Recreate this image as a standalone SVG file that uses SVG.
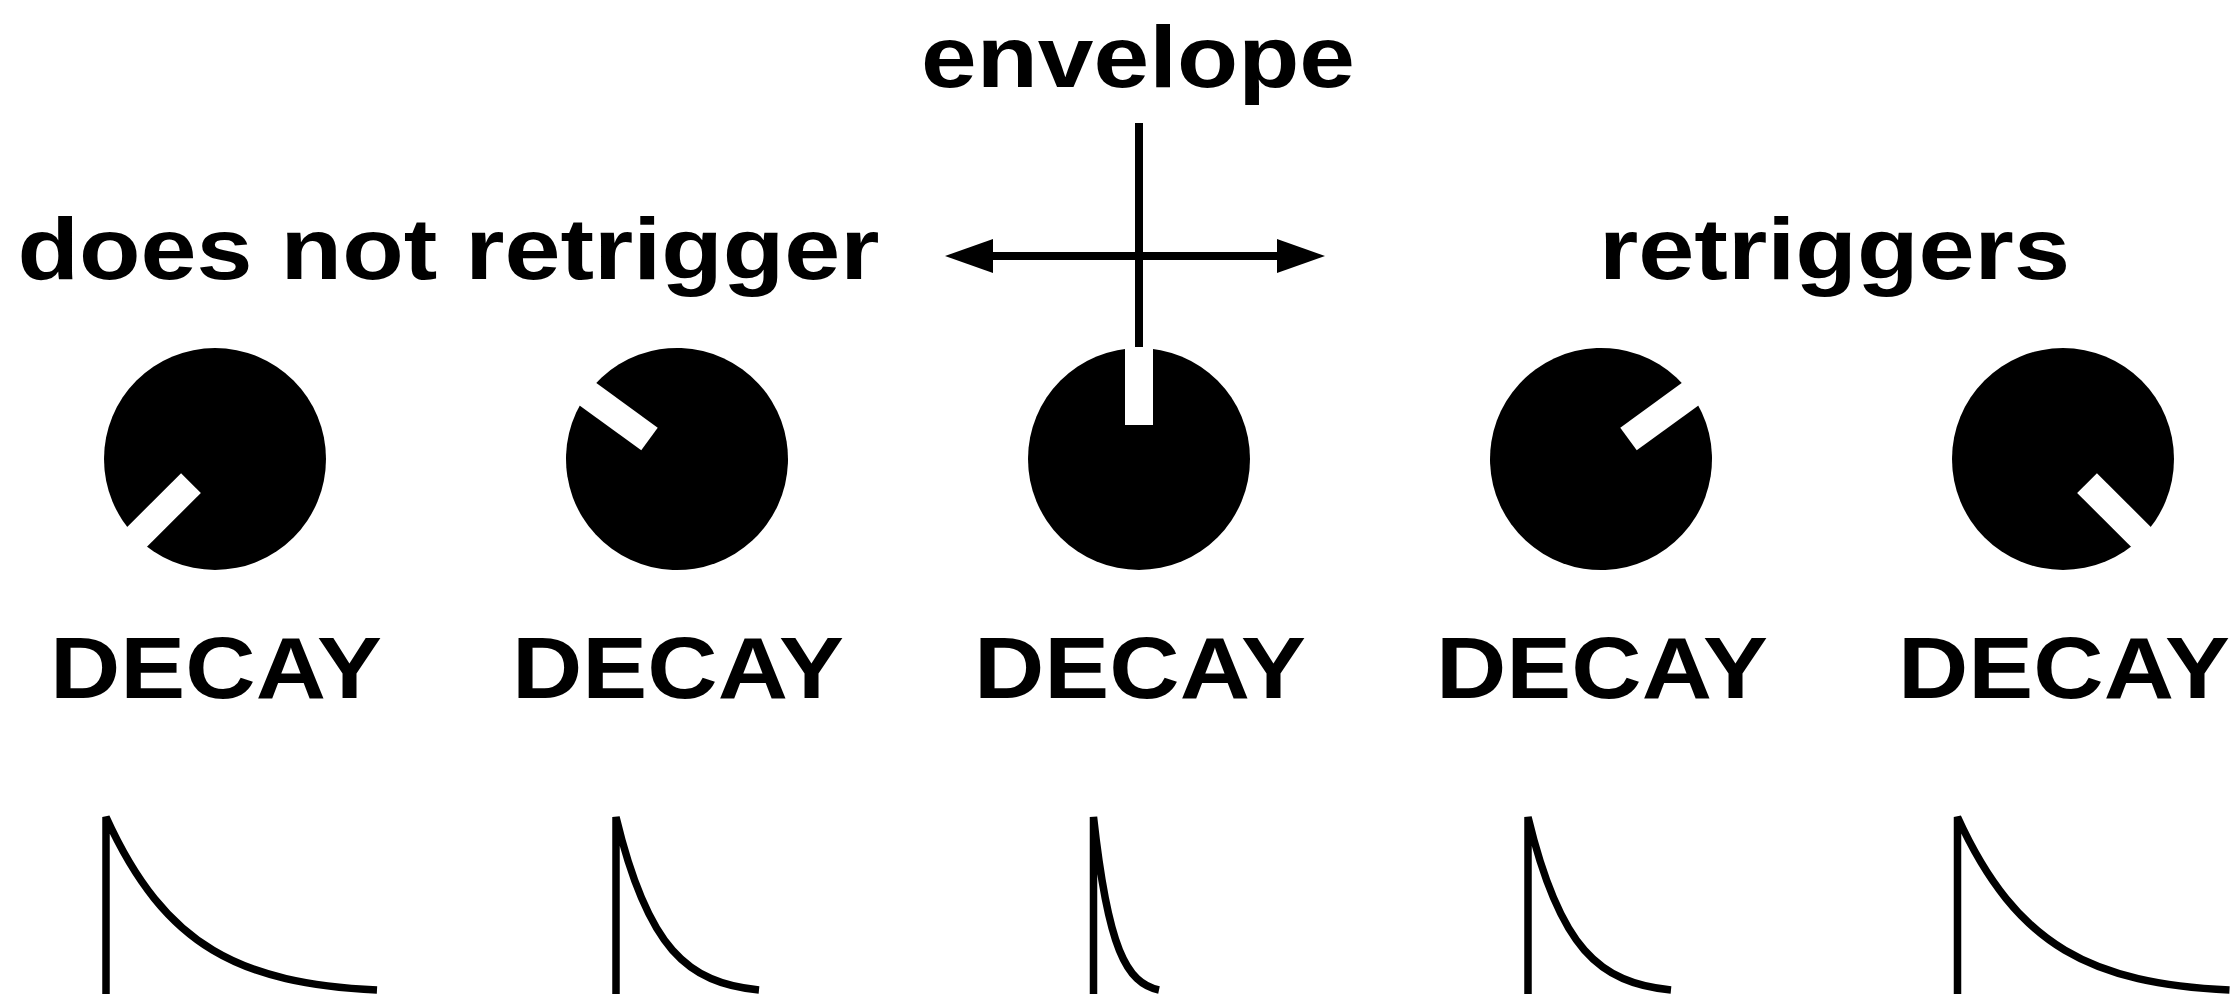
<svg xmlns="http://www.w3.org/2000/svg" width="2230" height="994" viewBox="0 0 2230 994">
<style>
.t{font-family:"Liberation Sans",Arial,sans-serif;font-weight:bold;font-size:88px;fill:#000}
.k{fill:#000}
.slot{fill:#fff}
.env{fill:none;stroke:#000;stroke-width:7.5;stroke-linejoin:miter}
.ax{stroke:#000;stroke-width:8;fill:none}
</style>
<defs>
<g id="knob">
<circle cx="0" cy="0" r="111" class="k"/>
<rect x="-14" y="-112" width="28" height="78" class="slot"/>
</g>
</defs>
<rect x="0" y="0" width="2230" height="994" fill="#fff"/>

<g id="title-envelope">
<text class="t" x="921" y="87" textLength="434" lengthAdjust="spacingAndGlyphs">envelope</text>
</g>
<g id="label-no-retrigger">
<text class="t" x="17.5" y="279" textLength="862" lengthAdjust="spacingAndGlyphs">does not retrigger</text>
</g>
<g id="label-retriggers">
<text class="t" x="1599" y="279" textLength="471" lengthAdjust="spacingAndGlyphs">retriggers</text>
</g>

<g id="connectors">
<line class="ax" x1="1139" y1="123" x2="1139" y2="348"/>
<line class="ax" x1="990" y1="256" x2="1280" y2="256"/>
<polygon points="945,256 993,239 993,273" fill="#000"/>
<polygon points="1325,256 1277,239 1277,273" fill="#000"/>
</g>

<g id="knob1">
<use href="#knob" transform="translate(215,459) rotate(-135)"/>
<text class="t" x="216" y="698" text-anchor="middle" textLength="332" lengthAdjust="spacingAndGlyphs">DECAY</text>
<path class="env" d="M106,1000 V817 C165.6,948.5 241.5,983.1 377,990"/>
</g>
<g id="knob2">
<use href="#knob" transform="translate(677,459) rotate(-54)"/>
<text class="t" x="678" y="698" text-anchor="middle" textLength="332" lengthAdjust="spacingAndGlyphs">DECAY</text>
<path class="env" d="M616,1000 V817 C647.5,948.5 687.5,983.1 759,990"/>
</g>
<g id="knob3">
<use href="#knob" transform="translate(1139,459)"/>
<text class="t" x="1140" y="698" text-anchor="middle" textLength="332" lengthAdjust="spacingAndGlyphs">DECAY</text>
<path class="env" d="M1093.5,1000 V817 C1107.9,948.5 1126.3,983.1 1159,990"/>
</g>
<g id="knob4">
<use href="#knob" transform="translate(1601,459) rotate(54)"/>
<text class="t" x="1602" y="698" text-anchor="middle" textLength="332" lengthAdjust="spacingAndGlyphs">DECAY</text>
<path class="env" d="M1528,1000 V817 C1559.5,948.5 1599.5,983.1 1671,990"/>
</g>
<g id="knob5">
<use href="#knob" transform="translate(2063,459) rotate(135)"/>
<text class="t" x="2064" y="698" text-anchor="middle" textLength="332" lengthAdjust="spacingAndGlyphs">DECAY</text>
<path class="env" d="M1957.5,1000 V817 C2017.3,948.5 2093.5,983.1 2229.5,990"/>
</g>
</svg>
